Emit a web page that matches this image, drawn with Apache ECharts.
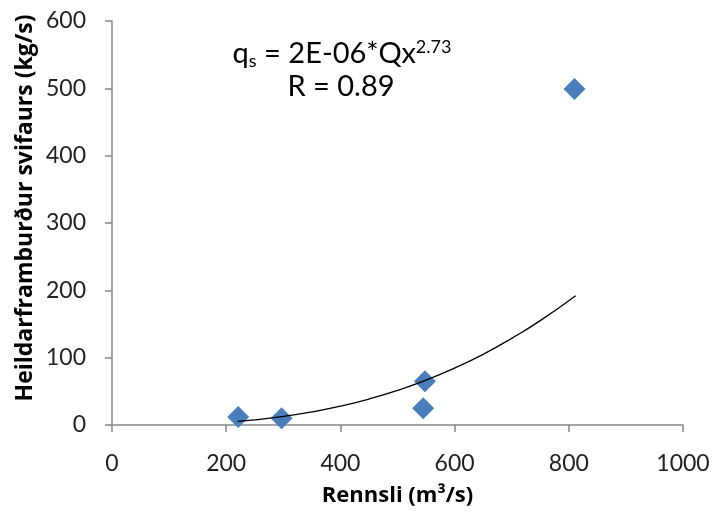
<!DOCTYPE html>
<html><head><meta charset="utf-8">
<script src="https://cdn.jsdelivr.net/npm/echarts@6/dist/echarts.min.js"></script>
<style>html,body{margin:0;padding:0;background:#fff}#c{width:713px;height:518px}</style>
</head><body><div id="c"></div>
<script>
const flowX = [221, 297, 548, 545, 810];
const loadY = [12, 10, 65, 25, 499];
const trendX = [220, 250, 300, 350, 400, 450, 500, 550, 600, 650, 700, 750, 812];
const trendY = [5.5, 7.7, 12.7, 19.4, 28, 38.6, 51.4, 66.7, 84.6, 105, 128.7, 155, 192];
const xTicks = [0, 200, 400, 600, 800, 1000];
const yTicks = [0, 100, 200, 300, 400, 500, 600];

const font = 'Lato, "Open Sans", sans-serif';
const titleFont = '"Open Sans", Lato, sans-serif';
const chart = echarts.init(document.getElementById('c'));
chart.setOption({
  animation: false,
  grid: {left: 112, right: 30, top: 21, bottom: 93},
  xAxis: {
    type: 'value', min: xTicks[0], max: xTicks[xTicks.length-1], interval: 200,
    name: 'Rennsli (m³/s)', nameLocation: 'middle', nameGap: 60,
    nameTextStyle: {fontFamily: titleFont, fontWeight: 'bold', fontSize: 22, color: '#000'},
    axisLine: {show: true, lineStyle: {color: '#888', width: 1.5}},
    axisTick: {show: true, length: 7, lineStyle: {color: '#888', width: 1.5}},
    axisLabel: {fontFamily: font, fontSize: 23, color: '#222', margin: 27,
      formatter: v => String(v)},
    splitLine: {show: false}
  },
  yAxis: {
    type: 'value', min: yTicks[0], max: yTicks[yTicks.length-1], interval: 100,
    axisLine: {show: true, lineStyle: {color: '#888', width: 1.5}},
    axisTick: {show: true, length: 7, lineStyle: {color: '#888', width: 1.5}},
    axisLabel: {fontFamily: font, fontSize: 23, color: '#222', margin: 26,
      formatter: v => String(v)},
    splitLine: {show: false}
  },
  series: [
    {
      type: 'line', data: trendX.map((x, i) => [x, trendY[i]]), smooth: true,
      showSymbol: false, lineStyle: {color: '#000', width: 1.3}, z: 3
    },
    {
      type: 'scatter', data: flowX.map((x, i) => [x, loadY[i]]),
      symbol: 'diamond', symbolSize: [22, 22],
      itemStyle: {color: '#4A7EBB', opacity: 1}, z: 2
    }
  ],
  graphic: [
    {
      type: 'text', x: 25, y: 208, rotation: Math.PI / 2,
      style: {
        text: 'Heildarframburður svifaurs (kg/s)',
        textAlign: 'center', textVerticalAlign: 'middle',
        fontFamily: titleFont, fontWeight: 'bold', fontSize: 23, fill: '#000'
      }
    },
    {
      type: 'text', x: 342, y: 54,
      style: {
        textAlign: 'center', textVerticalAlign: 'middle',
        rich: {
          n: {fontFamily: font, fontSize: 29, color: '#000'},
          sub: {fontFamily: font, fontSize: 18, color: '#000', padding: [14, 0, 0, 0]},
          sup: {fontFamily: font, fontSize: 18, color: '#000', padding: [0, 0, 14, 0]}
        },
        text: '{n|q}{sub|s}{n| = 2E-06*Qx}{sup|2.73}'
      }
    },
    {
      type: 'text', x: 341, y: 87,
      style: {
        textAlign: 'center', textVerticalAlign: 'middle',
        fontFamily: font, fontSize: 29, fill: '#000',
        text: 'R = 0.89'
      }
    }
  ]
});
</script></body></html>
